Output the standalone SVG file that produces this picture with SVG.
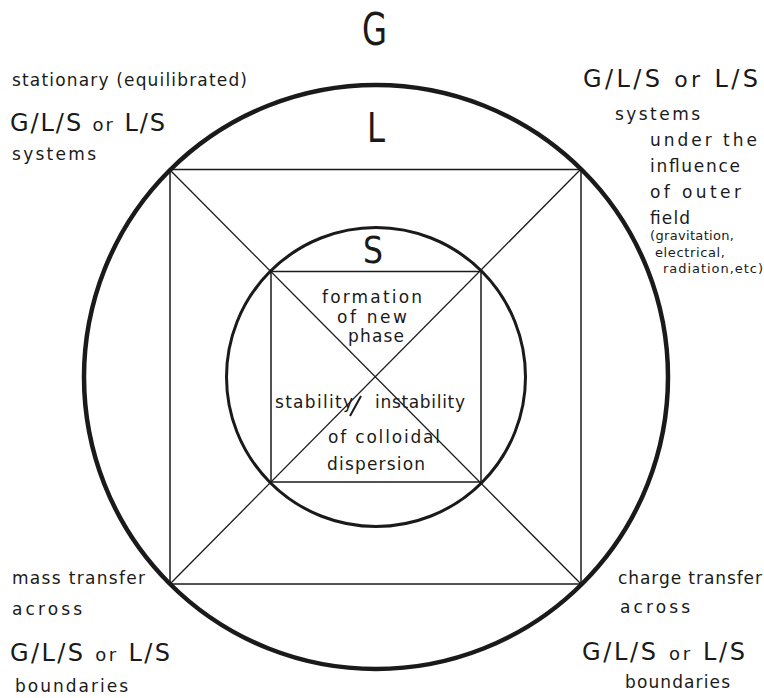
<svg xmlns="http://www.w3.org/2000/svg" width="764" height="698" viewBox="0 0 764 698">
<style>
.t{font-family:"DejaVu Sans","Liberation Sans",sans-serif;fill:#1a1a1a;font-size:17px}
.b{font-size:24px}
.s{font-size:13px}
.big{font-family:"DejaVu Sans","Liberation Sans",sans-serif;fill:#1a1a1a;font-size:40px;text-anchor:middle}
.thin{fill:none;stroke:#1a1a1a;stroke-width:1.5}
.dg{fill:none;stroke:#1a1a1a;stroke-width:1.3}
</style>
<rect width="764" height="698" fill="#fff"/>
<g id="connectors">
<line class="dg" x1="170" y1="170" x2="581" y2="584"/>
<line class="dg" x1="581" y1="169" x2="170" y2="584"/>
</g>
<g id="outer-circle"><circle cx="376" cy="377" r="292" fill="none" stroke="#1a1a1a" stroke-width="4.5"/></g>
<g id="outer-square"><rect class="thin" x="170" y="169.5" width="411" height="414.5"/></g>
<g id="inner-circle"><circle cx="376" cy="377" r="149.5" fill="none" stroke="#1a1a1a" stroke-width="3"/></g>
<g id="inner-square"><rect class="thin" x="271" y="271.5" width="210" height="210.5"/></g>
<g id="labels-phase">
<text class="big" x="374.5" y="45" textLength="25" lengthAdjust="spacingAndGlyphs" style="font-size:44px">G</text>
<text class="big" x="376" y="142" textLength="18" lengthAdjust="spacingAndGlyphs">L</text>
<text class="big" x="373" y="263" textLength="20" lengthAdjust="spacingAndGlyphs" style="font-size:38px">S</text>
</g>
<g id="center-text">
<text class="t" x="322" y="303" textLength="100">formation</text>
<text class="t" x="337" y="323" textLength="70">of new</text>
<text class="t" x="348" y="342" textLength="56">phase</text>
<text class="t" x="275" y="408" textLength="78">stability</text>
<line x1="361" y1="396" x2="350" y2="416" stroke="#1a1a1a" stroke-width="2"/>
<text class="t" x="375" y="408" textLength="90">instability</text>
<text class="t" x="328" y="443" textLength="112">of colloidal</text>
<text class="t" x="327" y="470" textLength="98">dispersion</text>
</g>
<g id="top-left">
<text class="t" x="12" y="86" textLength="235">stationary (equilibrated)</text>
<text class="t b" x="10" y="131" textLength="155">G/L/S <tspan style="font-size:18px">or</tspan>  L/S</text>
<text class="t" x="12" y="160" textLength="84">systems</text>
</g>
<g id="top-right">
<text class="t b" x="583" y="87" textLength="175">G/L/S <tspan style="font-size:22px">or</tspan> L/S</text>
<text class="t" x="615" y="120" textLength="85">systems</text>
<text class="t" x="650" y="146" textLength="107">under the</text>
<text class="t" x="650" y="172" textLength="90">influence</text>
<text class="t" x="650" y="198" textLength="91">of outer</text>
<text class="t" x="650" y="224" textLength="40">field</text>
<text class="t s" x="650" y="240" textLength="84">(gravitation,</text>
<text class="t s" x="655" y="257" textLength="70">electrical,</text>
<text class="t s" x="663" y="273" textLength="100">radiation,etc)</text>
</g>
<g id="bottom-left">
<text class="t" x="12" y="584" textLength="133">mass transfer</text>
<text class="t" x="12" y="615" textLength="70">across</text>
<text class="t b" x="10" y="661" textLength="160">G/L/S <tspan style="font-size:18px">or</tspan>  L/S</text>
<text class="t" x="15" y="692" textLength="113">boundaries</text>
</g>
<g id="bottom-right">
<text class="t" x="618" y="584" textLength="144">charge transfer</text>
<text class="t" x="620" y="613" textLength="70">across</text>
<text class="t b" x="582" y="660" textLength="163">G/L/S <tspan style="font-size:18px">or</tspan>  L/S</text>
<text class="t" x="625" y="688" textLength="105">boundaries</text>
</g>
</svg>
